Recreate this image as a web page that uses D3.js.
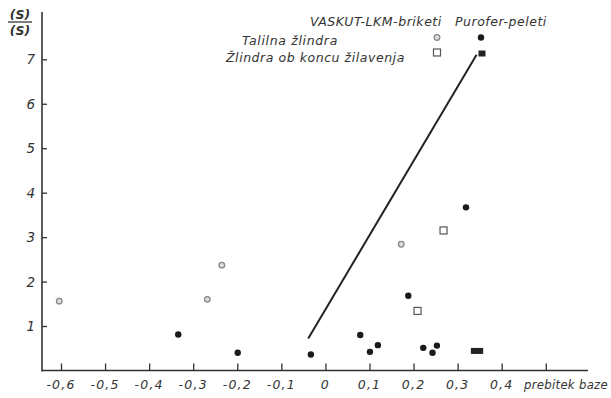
<!DOCTYPE html>
<html>
<head>
<meta charset="utf-8">
<script src="https://cdn.jsdelivr.net/npm/d3@7/dist/d3.min.js"></script>
<style>
  html, body { margin: 0; padding: 0; background: #fff; }
  svg { display: block; }
  text { font-family: "DejaVu Sans", sans-serif; font-style: italic; fill: #333; }
</style>
</head>
<body>
<script>
// Excess base (prebitek baze) vs. sulphur distribution ratio (S)/[S]

// Talilna žlindra – VASKUT-LKM-briketi (open circles)
const vaskutMelt = [
  { x: -0.604, y: 1.56 },
  { x: -0.268, y: 1.60 },
  { x: -0.235, y: 2.37 },
  { x: 0.172, y: 2.84 }
];

// Talilna žlindra – Purofer-peleti (filled dots)
const puroferMelt = [
  { x: -0.334, y: 0.81 },
  { x: -0.199, y: 0.40 },
  { x: -0.033, y: 0.36 },
  { x: 0.079, y: 0.80 },
  { x: 0.101, y: 0.42 },
  { x: 0.119, y: 0.57 },
  { x: 0.188, y: 1.68 },
  { x: 0.222, y: 0.51 },
  { x: 0.243, y: 0.40 },
  { x: 0.253, y: 0.56 },
  { x: 0.319, y: 3.67 }
];

// Žlindra ob koncu žilavenja – VASKUT-LKM-briketi (open squares)
const vaskutEnd = [
  { x: 0.209, y: 1.34 },
  { x: 0.268, y: 3.15 }
];

// Žlindra ob koncu žilavenja – Purofer-peleti (filled squares)
const puroferEnd = [
  { x: 0.338, y: 0.44 },
  { x: 0.350, y: 0.44 }
];

// Trend line
const trendLine = [
  { x: -0.039, y: 0.72 },
  { x: 0.343, y: 7.10 }
];

const xTicks = [-0.6, -0.5, -0.4, -0.3, -0.2, -0.1, 0, 0.1, 0.2, 0.3, 0.4, 0.5];
const xLabelled = [-0.6, -0.5, -0.4, -0.3, -0.2, -0.1, 0, 0.1, 0.2, 0.3, 0.4];
const yTicks = [1, 2, 3, 4, 5, 6, 7];

const legendColumns = ["VASKUT-LKM-briketi", "Purofer-peleti"];
const legendRows = ["Talilna žlindra", "Žlindra ob koncu žilavenja"];

const W = 611, H = 398;
const svg = d3.select("body").append("svg").attr("width", W).attr("height", H);

const x = d3.scaleLinear().domain([-0.6, 0.4]).range([61, 501.7]);
const y = d3.scaleLinear().domain([0, 7]).range([370.5, 59.3]);

const ink = "#333";
const x0 = 42, xEnd = 588, yTop = 12;

// Lettering style: wide, slanted technical hand
function letter(sel, size, spacing) {
  return sel.attr("font-size", size).attr("letter-spacing", spacing);
}

// Axes frame
svg.append("line").attr("x1", x0).attr("x2", x0).attr("y1", y(0) + 1).attr("y2", yTop)
  .attr("stroke", ink).attr("stroke-width", 1.6);
svg.append("line").attr("x1", x0).attr("x2", xEnd).attr("y1", y(0)).attr("y2", y(0))
  .attr("stroke", ink).attr("stroke-width", 1.6);

// X ticks (pointing up) and labels
const fmt = v => v === 0 ? "0" : (v < 0 ? "-" : "") + Math.abs(v).toFixed(1).replace(".", ",");
const xAxis = d3.axisBottom(x).tickValues(xTicks).tickSize(-7).tickPadding(0).tickFormat("");
const gx = svg.append("g").attr("transform", `translate(0,${y(0)})`).call(xAxis);
gx.select(".domain").remove();
gx.selectAll(".tick line").attr("stroke", ink).attr("stroke-width", 1.3);
svg.append("g").selectAll("text").data(xLabelled).join("text")
  .attr("x", d => x(d)).attr("y", 388.5)
  .attr("text-anchor", "middle")
  .call(letter, 12.5, 1.2)
  .text(fmt);
svg.append("text").attr("x", 524).attr("y", 388.5).call(letter, 12, 0.3)
  .attr("textLength", 84).attr("lengthAdjust", "spacingAndGlyphs").text("prebitek baze");

// Y ticks (pointing right) and labels
const yAxis = d3.axisRight(y).tickValues(yTicks).tickSize(5).tickFormat("");
const gy = svg.append("g").attr("transform", `translate(${x0},0)`).call(yAxis);
gy.select(".domain").remove();
gy.selectAll(".tick line").attr("stroke", ink).attr("stroke-width", 1.3);
svg.append("g").selectAll("text").data(yTicks).join("text")
  .attr("x", 35).attr("y", d => y(d) + 5)
  .attr("text-anchor", "end").attr("font-size", 13.5)
  .text(d => d);

// Y axis title as a fraction
svg.append("text").attr("x", 20).attr("y", 19).attr("text-anchor", "middle")
  .attr("font-size", 12.5).attr("font-weight", "bold").text("(S)");
svg.append("line").attr("x1", 8).attr("x2", 32).attr("y1", 22).attr("y2", 22)
  .attr("stroke", ink).attr("stroke-width", 1.3);
svg.append("text").attr("x", 20).attr("y", 35).attr("text-anchor", "middle")
  .attr("font-size", 12.5).attr("font-weight", "bold").text("(S)");

// Trend line
svg.append("path").datum(trendLine)
  .attr("d", d3.line().x(d => x(d.x)).y(d => y(d.y)))
  .attr("fill", "none").attr("stroke", "#222").attr("stroke-width", 2);

// Marker drawers
function openCircle(sel, cx, cy) {
  sel.append("circle").attr("cx", cx).attr("cy", cy).attr("r", 2.8)
    .attr("fill", "#ddd").attr("stroke", "#888").attr("stroke-width", 1.3);
}
function filledDot(sel, cx, cy) {
  sel.append("circle").attr("cx", cx).attr("cy", cy).attr("r", 3.2).attr("fill", "#1a1a1a");
}
function openSquare(sel, cx, cy) {
  sel.append("rect").attr("x", cx - 3.5).attr("y", cy - 3.5).attr("width", 7).attr("height", 7)
    .attr("fill", "#fff").attr("stroke", "#555").attr("stroke-width", 1.2);
}
function filledSquare(sel, cx, cy) {
  sel.append("rect").attr("x", cx - 3.5).attr("y", cy - 3).attr("width", 7).attr("height", 6)
    .attr("fill", "#222");
}

const pts = svg.append("g");
vaskutMelt.forEach(d => openCircle(pts, x(d.x), y(d.y)));
puroferMelt.forEach(d => filledDot(pts, x(d.x), y(d.y)));
vaskutEnd.forEach(d => openSquare(pts, x(d.x), y(d.y)));
puroferEnd.forEach(d => filledSquare(pts, x(d.x), y(d.y)));

// Legend (two columns × two rows)
const lg = svg.append("g");
lg.append("text").attr("x", 310).attr("y", 26).call(letter, 12.5, 0.7)
  .attr("textLength", 132).text(legendColumns[0]);
lg.append("text").attr("x", 455).attr("y", 26).call(letter, 12.5, 0.7)
  .attr("textLength", 92).text(legendColumns[1]);
lg.append("text").attr("x", 242).attr("y", 45).call(letter, 12.5, 0.7)
  .attr("textLength", 96).text(legendRows[0]);
lg.append("text").attr("x", 226).attr("y", 62).call(letter, 12.5, 0.7)
  .attr("textLength", 179).text(legendRows[1]);
openCircle(lg, 437, 37.5);
filledDot(lg, 481, 37.5);
openSquare(lg, 437, 52.5);
filledSquare(lg, 482, 53.5);
</script>
</body>
</html>
